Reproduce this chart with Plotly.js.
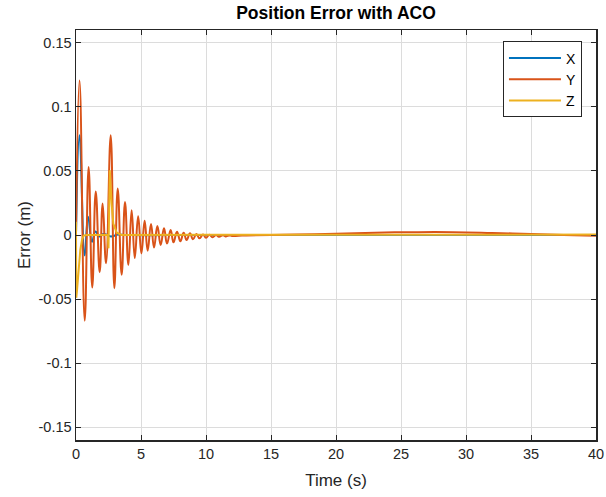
<!DOCTYPE html>
<html>
<head>
<meta charset="utf-8">
<script src="https://cdn.plot.ly/plotly-3.0.1.min.js"></script>
<style>html,body{margin:0;padding:0;background:#fff;}#chart{width:606px;height:497px;}</style>
</head>
<body>
<div id="chart"></div>
<script>
// Time samples and values
var tX = [0, 0.27, 0.67, 0.93, 1.23, 1.5, 1.8, 2.1, 2.4, 2.7, 2.95, 3.2, 4, 10, 20, 30, 40];
var xVals = [0, 0.0778, -0.0160, 0.0143, -0.0052, 0.0028, -0.0012, 0.0008, 0.0, -0.0012, -0.0006, 0.0003, 0, 0, 0, 0, 0];

var tY = [0, 0.27, 0.67, 0.97, 1.25, 1.52, 1.82, 2.05, 2.31, 2.67, 2.95, 3.21, 3.51, 3.77, 4.03, 4.28, 4.52, 4.78,
  5.03, 5.28, 5.51, 5.77, 6.0, 6.26, 6.51, 6.77, 7.0, 7.28, 7.5, 7.77, 8.03, 8.28, 8.51, 8.77, 9.0, 9.26, 9.5,
  9.77, 10.0, 10.26, 10.5, 10.77, 11.0, 11.3, 11.5, 11.8, 12.0, 12.5, 13, 15, 17, 20, 23, 26, 29, 32, 35, 37.5, 40];
var yVals = [0, 0.1205, -0.067, 0.053, -0.041, 0.034, -0.029, 0.0246, -0.022, 0.0778, -0.0415, 0.0363, -0.031,
  0.0257, -0.0235, 0.0194, -0.018, 0.0146, -0.0143, 0.0111, -0.0122, 0.0086, -0.0098, 0.007, -0.0078, 0.0052,
  -0.0067, 0.0039, -0.0057, 0.0026, -0.0049, 0.0018, -0.0039, 0.0013, -0.0034, 0.0008, -0.0026, 0.0004, -0.0022,
  0.0002, -0.0018, 0.0, -0.0014, -0.0002, -0.0011, -0.0003, -0.0008, -0.0005, -0.0004, 0, 0.0004, 0.001, 0.0018,
  0.0022, 0.0022, 0.0016, 0.0008, 0.0, -0.0006];

var tZ = [0, 0.02, 0.08, 0.13, 0.2, 0.33, 0.46, 0.59, 0.8, 2.45, 2.5, 2.6, 2.74, 2.87, 3.13, 3.5, 10, 20, 30, 40];
var zVals = [0.0104, -0.049, -0.043, -0.035, -0.027, -0.0117, -0.0039, -0.0005, 0, 0, -0.0104, 0.0505, 0.0246,
  0.009, 0.0018, 0, 0.0002, 0.0004, 0.0004, 0.0003];

var seriesNames = ['X', 'Y', 'Z'];
var tickVals = [-0.15, -0.1, -0.05, 0, 0.05, 0.1, 0.15];
var tickText = ['-0.15', '-0.1', '-0.05', '0', '0.05', '0.1', '0.15'];
var xTicks = [0, 5, 10, 15, 20, 25, 30, 35, 40];

var colors = ['#0072BD', '#D95319', '#EDB120'];
var font = '"Liberation Sans", Arial, Helvetica, sans-serif';
var axisColor = '#262626';

var traces = [
  {x: tX, y: xVals, name: seriesNames[0], type: 'scatter', mode: 'lines',
   line: {color: colors[0], width: 2, shape: 'spline', smoothing: 1.3}},
  {x: tY, y: yVals, name: seriesNames[1], type: 'scatter', mode: 'lines',
   line: {color: colors[1], width: 2, shape: 'spline', smoothing: 1.3}},
  {x: tZ, y: zVals, name: seriesNames[2], type: 'scatter', mode: 'lines',
   line: {color: colors[2], width: 2}}
];

var layout = {
  width: 606, height: 497,
  margin: {l: 76, r: 10, t: 30, b: 57, pad: 0},
  paper_bgcolor: '#ffffff', plot_bgcolor: '#ffffff',
  font: {family: font, color: axisColor, size: 14},
  title: {text: '<b>Position Error with ACO</b>', font: {family: font, size: 17.5, color: '#000000'},
          x: 0.5, xref: 'paper', xanchor: 'center', y: 1, yref: 'paper', yanchor: 'bottom', pad: {b: 11}},
  xaxis: {
    range: [0, 40], tickvals: xTicks, ticktext: xTicks.map(String),
    showline: true, mirror: 'ticks', linecolor: axisColor, linewidth: 1.5,
    ticks: 'inside', ticklen: 5, tickwidth: 1, tickcolor: axisColor,
    showgrid: true, gridcolor: '#dcdcdc', gridwidth: 1, zeroline: false,
    tickfont: {size: 14.5, color: axisColor},
    title: {text: 'Time (s)', font: {size: 17, color: axisColor}, standoff: 13}
  },
  yaxis: {
    range: [-0.16, 0.16], tickvals: tickVals, ticktext: tickText,
    showline: true, mirror: 'ticks', linecolor: axisColor, linewidth: 1.5,
    ticks: 'inside', ticklen: 5, tickwidth: 1, tickcolor: axisColor,
    showgrid: true, gridcolor: '#dcdcdc', gridwidth: 1, zeroline: false,
    tickfont: {size: 14.5, color: axisColor},
    title: {text: 'Error (m)', font: {size: 17, color: axisColor}, standoff: 3}
  },
  legend: {
    x: 0.973, y: 0.972, xanchor: 'right', yanchor: 'top',
    bgcolor: '#ffffff', bordercolor: axisColor, borderwidth: 1,
    itemwidth: 52,
    font: {size: 14, color: '#000000'}
  },
  showlegend: true
};

Plotly.newPlot('chart', traces, layout, {staticPlot: true, displayModeBar: false});
</script>
</body>
</html>
